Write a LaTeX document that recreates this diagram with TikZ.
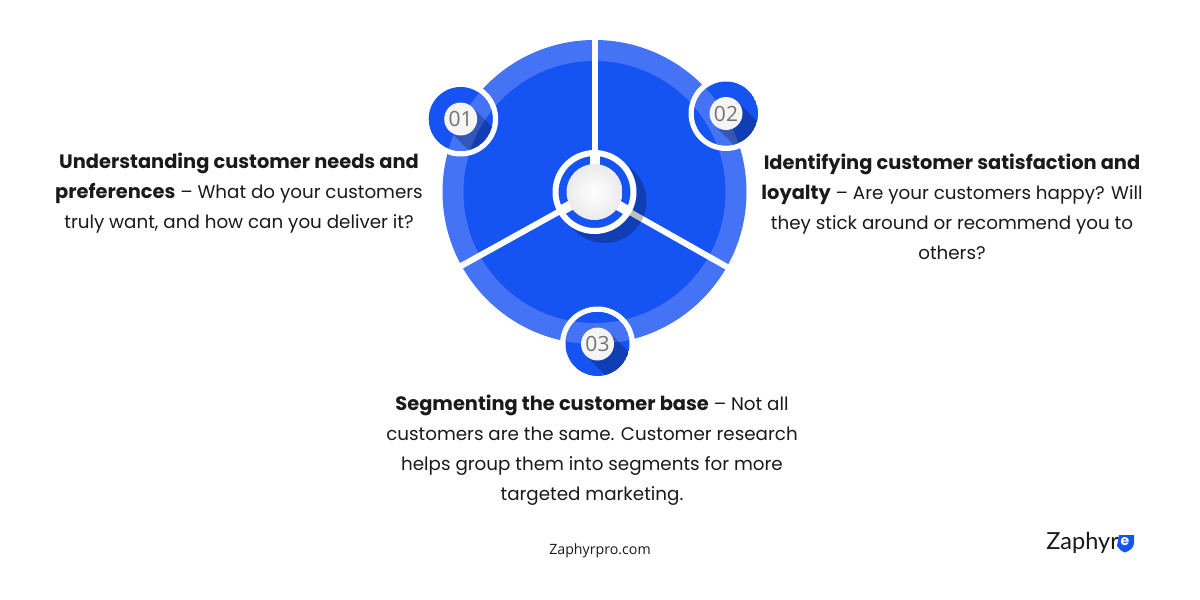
\documentclass[tikz,border=0pt]{standalone}
\usepackage{fontspec}
\usetikzlibrary{calc}
\setmainfont{Poppins}
\newfontfamily\numfont{Open Sans}
\newfontfamily\logofont{Lato}
\definecolor{bandblue}{HTML}{4573F5}
\definecolor{coreblue}{HTML}{1554F2}
\definecolor{inktext}{HTML}{1A1A1A}
\newcommand{\hd}[1]{{\bfseries\fontsize{19.4}{30}\selectfont #1}}
\tikzset{
  whiteline/.style={draw=white,line width=6pt},
  hubline/.style={draw=white,line width=10pt},
  blurb/.style={text=inktext,align=center,inner sep=0pt,font=\fontsize{18.3}{30}\selectfont},
  numlabel/.style={text=black!55,inner sep=0pt,font=\numfont\fontsize{21}{22}\selectfont},
  hub/.style={circle,minimum size=#1,inner sep=0pt},
}
\newcommand{\badge}[3]{%
  \fill[white] (#1,#2) circle (37.5);
  \begin{scope}
    \clip (#1,#2) circle (32);
    \fill[coreblue] (#1,#2) circle (32);
    \fill[bandblue] (c) circle (152);
    \fill[coreblue] (c) circle (131);
    \draw[line width=33pt,line cap=round,black,opacity=.25] (#1,#2) -- ++(35,35);
  \end{scope}
  \node[hub=33pt,fill=white!96!black] (n#3) at (#1,#2) {};
  \node[numlabel] at (#1,#2) {#3};
}
\begin{document}
\begin{tikzpicture}[x=1pt,y=-1pt]
\useasboundingbox (0,0) rectangle (1200,600);
\fill[white] (0,0) rectangle (1200,600);
\coordinate (c) at (594.5,192);
\fill[bandblue] (c) circle (152);
\fill[coreblue] (c) circle (131);
% spokes
\coordinate (s1) at (594.5,38);
\coordinate (s2) at ($(c)+(151:155)$);
\coordinate (s3) at ($(c)+(29.5:155)$);
\draw[whiteline] (c) -- (s1);
\draw[whiteline] (c) -- (s2);
\draw[whiteline] (c) -- (s3);
% hub
\draw[line width=84pt,line cap=round,black,opacity=.25] (c) -- ++(10,9);
\draw[white,line width=6pt,fill=coreblue] (c) circle (39);
\draw[hubline] (c) -- ++(0,-38);
\draw[hubline] (c) -- ++(151:38);
\draw[hubline] (c) -- ++(29.5:38);
\shade[inner color=white,outer color=black!8] (c) circle (28);
\node[hub=56pt] (hubnode) at (c) {};
% badges
\badge{460.7}{119}{01}
\badge{726}{113.5}{02}
\badge{597.5}{344}{03}
% text
\node[blurb] (t1) at (239,193) {\hd{Understanding customer needs and}\\\hd{preferences} – What do your customers\\truly want, and how can you deliver it?};
\node[blurb] (t2) at (952,206.5) {\hd{Identifying customer satisfaction and}\\\hd{loyalty} – Are your customers happy? Will\\they stick around or recommend you to\\others?};
\node[blurb] (t3) at (592,450) {\hd{Segmenting the customer base} – Not all\\customers are the same. Customer research\\helps group them into segments for more\\targeted marketing.};
\node[text=inktext,inner sep=0pt,font=\numfont\fontsize{14.2}{16}\selectfont] (site) at (600,550.5) {Zaphyrpro.com};
% logo
\node[anchor=east,text=inktext,inner sep=0pt,font=\logofont\fontsize{23.5}{26}\selectfont] (logo) at (1119,543) {Zaphyr};
\fill[coreblue] (1119,535) -- (1134,535) -- (1134,543) .. controls (1134,548) and (1129,551) .. (1125,552.5) .. controls (1121,551) and (1119,549) .. (1117,546) -- cycle;
\node[text=white,inner sep=0pt,font=\bfseries\fontsize{14}{14}\selectfont] (logoe) at (1125,542) {e};
\end{tikzpicture}
\end{document}
